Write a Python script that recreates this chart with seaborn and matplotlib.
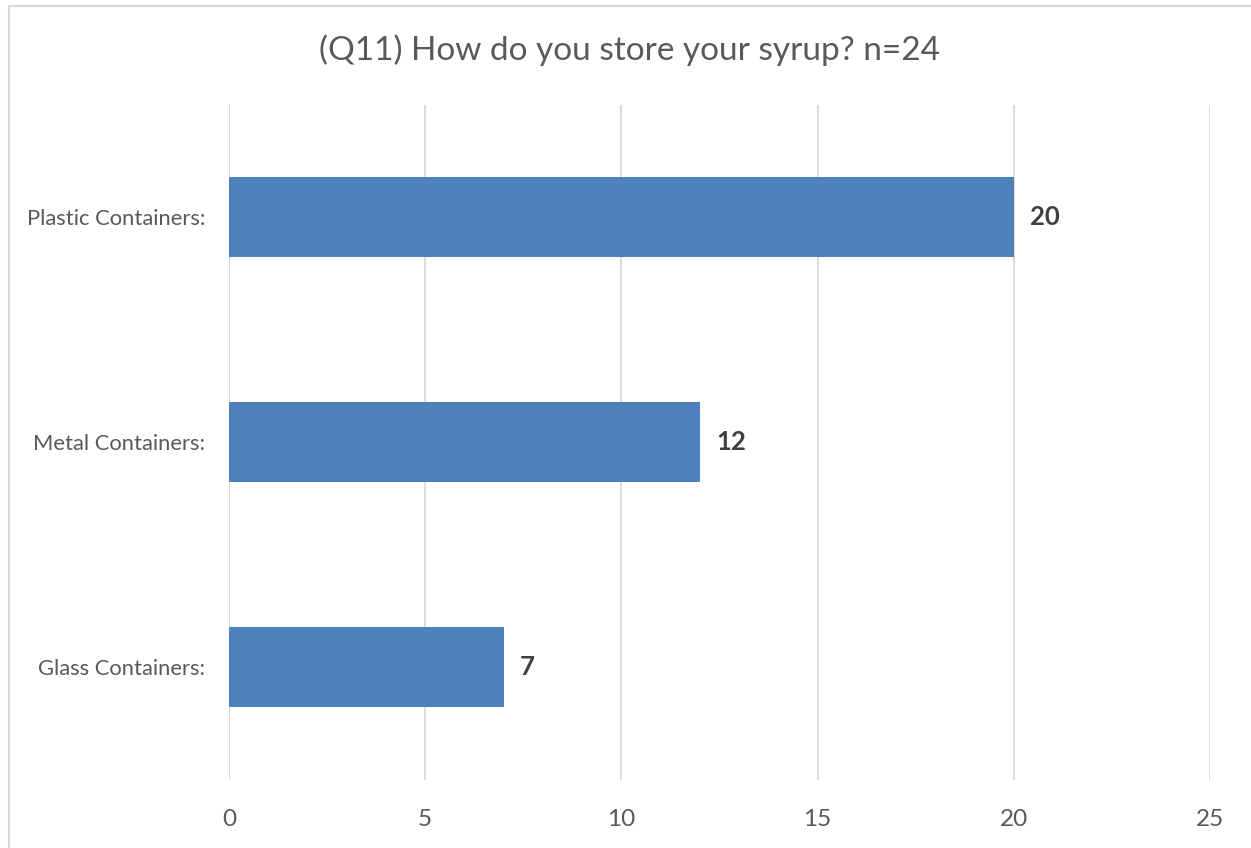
import matplotlib
matplotlib.use("Agg")
import matplotlib.pyplot as plt
import seaborn as sns
import pandas as pd
from matplotlib.patches import Rectangle

categories = ["Plastic Containers:", "Metal Containers:", "Glass Containers:"]
counts = [20, 12, 7]
x_ticks = [0, 5, 10, 15, 20, 25]
title = "(Q11) How do you store your syrup? n=24"

sns.set_theme(style="white")
plt.rcParams['font.family'] = ['Lato', 'DejaVu Sans']

df = pd.DataFrame({"category": categories, "count": counts})

fig = plt.figure(figsize=(12.51, 8.48), dpi=100)
ax = fig.add_axes([229/1251, (848-779.5)/848, (1210-229)/1251, (779.5-104.5)/848])

sns.barplot(data=df, x="count", y="category", orient="h", color="#4F81BD",
            saturation=1, width=0.353, ax=ax, order=categories, linewidth=0)

ax.set_xlim(0, 25)
ax.set_ylim(2.5, -0.5)
ax.set_xticks(x_ticks)
ax.set_xticklabels([str(t) for t in x_ticks])
ax.xaxis.grid(True, color="#D9D9D9", linewidth=1.3)
ax.set_axisbelow(True)
for s in ax.spines.values():
    s.set_visible(False)
ax.axvline(0, color="#D9D9D9", linewidth=1.3, zorder=0.5)
ax.set_xlabel("")
ax.set_ylabel("")
ax.tick_params(axis="x", labelsize=17.5, colors="#595959", length=0, pad=21)
ax.tick_params(axis="y", labelsize=15.8, colors="#595959", length=0, pad=17)

for i, v in enumerate(counts):
    ax.text(v + 0.42, i, str(v), va="center", ha="left", fontsize=18.5,
            fontweight="bold", color="#404040")

fig.text(630/1251, 1 - 50/848, title, ha="center", va="center", fontsize=24, color="#595959")

fig.patches.append(Rectangle((8.5/1251, -0.1), 1.2, 1 - 6.5/848 + 0.1, transform=fig.transFigure,
                             fill=False, edgecolor="#D9D9D9", linewidth=1.5, zorder=0))

fig.savefig("out.png", dpi=100, facecolor="white")
